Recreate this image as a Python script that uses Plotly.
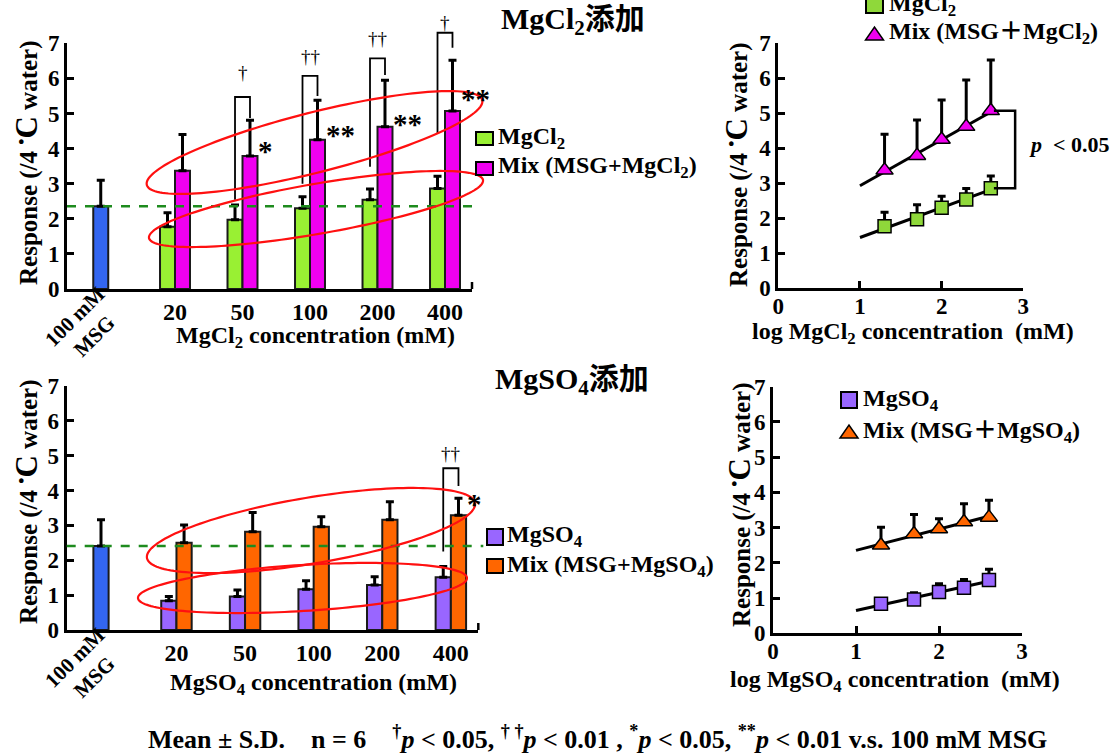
import numpy as np
import plotly.graph_objects as go

# ---------------------------------------------------------------- data
concentrations = [20, 50, 100, 200, 400]            # mM
conc_labels = ["20", "50", "100", "200", "400"]

msg_cl_mean, msg_cl_sd = 2.36, 0.74                 # 100 mM MSG reference
mgcl2_mean = [1.77, 1.97, 2.30, 2.54, 2.86]
mgcl2_sd = [0.40, 0.42, 0.33, 0.31, 0.35]
mix_cl_mean = [3.37, 3.79, 4.25, 4.62, 5.07]
mix_cl_sd = [1.03, 1.02, 1.13, 1.33, 1.45]

msg_so_mean, msg_so_sd = 2.41, 0.75
mgso4_mean = [0.84, 0.96, 1.17, 1.29, 1.51]
mgso4_sd = [0.12, 0.19, 0.24, 0.24, 0.31]
mix_so_mean = [2.50, 2.82, 2.96, 3.16, 3.29]
mix_so_sd = [0.51, 0.55, 0.29, 0.52, 0.49]

cl_pair_sig = ["", "†", "††", "††", "†"]     # salt alone vs mix
cl_msg_sig = ["", "*", "**", "**", "**"]     # mix vs 100 mM MSG
so_pair_sig = ["", "", "", "", "††"]
so_msg_sig = ["", "", "", "", "*"]

# ---------------------------------------------------------------- styling / geometry
W, H = 1113, 755
SERIF = "Liberation Serif, Times New Roman, Noto Sans CJK JP, serif"

MSG_BLUE = "#3366F0"
CL_GREEN = "#99F033"
CL_MAGENTA = "#F000F0"
SO_PURPLE = "#9966FF"
SO_ORANGE = "#FF6600"
CL_GREEN_MARK = "#8FD83A"

# pixel extents of each plotting area and its data range
PANELS = {
    "tl": dict(x="x", y="y", xpx=(67.0, 472.0), ypx=(289.0, 43.3), xr=(-0.6, 5.4), yr=(0, 7)),
    "tr": dict(x="x2", y="y2", xpx=(778.3, 1023.3), ypx=(288.3, 43.3), xr=(0, 3), yr=(0, 7)),
    "bl": dict(x="x3", y="y3", xpx=(66.7, 478.3), ypx=(630.0, 386.0), xr=(-0.6, 5.4), yr=(0, 7)),
    "br": dict(x="x4", y="y4", xpx=(773.0, 1022.0), ypx=(633.3, 386.7), xr=(0, 3), yr=(0, 7)),
}

GROUP_X = np.arange(1, 6)
MSG_X = -0.1
BAR_W = 0.222

# salt-vs-mix brackets: (left foot, top, right foot, label y)
cl_brackets = [None, (2.54, 5.47, 4.87, 6.18), (3.0, 6.07, 5.5, 6.63),
               (3.48, 6.57, 6.1, 7.13), (4.44, 7.3, 6.87, 7.6)]
so_brackets = [None, None, None, None, (2.25, 4.64, 4.13, 5.05)]
cl_star_y = [None, 4.07, 4.53, 4.84, 5.56]
so_star_y = [None, None, None, None, 3.76]

# red ellipses: centre (data units), half-length / half-width (px), tilt (deg)
cl_ellipses = [((3.067, 4.174), 173, 30, 14.2), ((3.089, 2.279), 169.5, 25, 9.85)]
so_ellipses = [((2.961, 2.854), 166.3, 33, 9.5), ((2.837, 1.205), 164.8, 23, 3.5)]


def px_x(p, x):
    (a, b), (r0, r1) = p["xpx"], p["xr"]
    return a + (x - r0) / (r1 - r0) * (b - a)


def px_y(p, y):
    (a, b), (r0, r1) = p["ypx"], p["yr"]
    return a + (y - r0) / (r1 - r0) * (b - a)


def fx(px):
    return px / W


def fy(py):
    return 1 - py / H


shapes, annotations = [], []


def label(xpx, ypx, text, size, xanchor="center", yanchor="middle", **kw):
    annotations.append(dict(
        x=fx(xpx), y=fy(ypx), xref="paper", yref="paper", text=text, showarrow=False,
        xanchor=xanchor, yanchor=yanchor,
        font=dict(family=SERIF, size=size, color="black"), **kw))


def poly(points, color="black", width=2, closed=False):
    d = "M" + " L".join(f"{fx(a):.5f},{fy(b):.5f}" for a, b in points)
    if closed:
        d += " Z"
    shapes.append(dict(type="path", xref="paper", yref="paper", path=d,
                       line=dict(color=color, width=width), layer="above"))


def ellipse(p, centre, a, b, tilt):
    cx, cy = px_x(p, centre[0]), px_y(p, centre[1])
    th = np.radians(tilt)
    t = np.linspace(0, 2 * np.pi, 160, endpoint=False)
    xs = cx + a * np.cos(t) * np.cos(th) + b * np.sin(t) * np.sin(th)
    ys = cy - a * np.cos(t) * np.sin(th) + b * np.sin(t) * np.cos(th)
    poly(list(zip(xs, ys)), color="#FF1010", width=2.2, closed=True)


def up_err(sd):
    return dict(type="data", symmetric=False, array=list(sd), arrayminus=[0] * len(sd),
                color="black", thickness=3, width=4)


fig = go.Figure()
BAR_LINE = dict(color="#1a1a1a", width=2)


def bar_panel(key, msg_mean, msg_sd, salt_mean, salt_sd, mix_mean, mix_sd,
              salt_color, mix_color, brackets, pair_sig, msg_sig, star_y, ellipses):
    p = PANELS[key]
    ax = dict(xaxis=p["x"], yaxis=p["y"], showlegend=False, hoverinfo="skip")
    fig.add_trace(go.Bar(x=[MSG_X], y=[msg_mean], width=BAR_W,
                         marker=dict(color=MSG_BLUE, line=BAR_LINE), error_y=up_err([msg_sd]), **ax))
    fig.add_trace(go.Bar(x=GROUP_X, y=salt_mean, offset=-BAR_W, width=BAR_W,
                         marker=dict(color=salt_color, line=BAR_LINE), error_y=up_err(salt_sd), **ax))
    fig.add_trace(go.Bar(x=GROUP_X, y=mix_mean, offset=0, width=BAR_W,
                         marker=dict(color=mix_color, line=BAR_LINE), error_y=up_err(mix_sd), **ax))

    # MSG reference level
    y_ref = px_y(p, msg_mean)
    shapes.append(dict(type="line", xref="paper", yref="paper",
                       x0=fx(p["xpx"][0]), x1=fx(p["xpx"][1] + 5), y0=fy(y_ref), y1=fy(y_ref),
                       line=dict(color="#1E8B1E", width=2.5, dash="dash"), layer="above"))

    # short end tick closing the category axis
    x_end = p["xpx"][1]
    poly([(x_end, p["ypx"][0]), (x_end, p["ypx"][0] - 7)], width=2.5)

    for k, gx in enumerate(GROUP_X):
        if brackets[k]:
            lf, top, rf, ly = brackets[k]
            xl, xr_ = px_x(p, gx - BAR_W / 2), px_x(p, gx + BAR_W / 2)
            poly([(xl, px_y(p, lf)), (xl, px_y(p, top)), (xr_, px_y(p, top)), (xr_, px_y(p, rf))],
                 width=1.8)
            label((xl + xr_) / 2, px_y(p, ly), pair_sig[k], 19)
        if msg_sig[k]:
            label(px_x(p, gx + BAR_W) - 1, px_y(p, star_y[k]) + 5, "<b>" + msg_sig[k] + "</b>", 29,
                  xanchor="left")

    for centre, a, b, tilt in ellipses:
        ellipse(p, centre, a, b, tilt)


def dose_panel(key, salt_mean, salt_sd, mix_mean, mix_sd, salt_color, mix_color):
    p = PANELS[key]
    ax = dict(xaxis=p["x"], yaxis=p["y"], showlegend=False, hoverinfo="skip")
    logc = np.log10(concentrations)
    for mean in (salt_mean, mix_mean):
        slope, icpt = np.polyfit(logc, mean, 1)
        xs = np.array([1.0, logc[-1]])
        fig.add_trace(go.Scatter(x=xs, y=icpt + slope * xs, mode="lines",
                                 line=dict(color="black", width=3), **ax))
    fig.add_trace(go.Scatter(x=logc, y=salt_mean, mode="markers", error_y=up_err(salt_sd),
                             marker=dict(symbol="square", size=13, color=salt_color,
                                         line=dict(color="black", width=1.5)), **ax))
    fig.add_trace(go.Scatter(x=logc, y=mix_mean, mode="markers", error_y=up_err(mix_sd),
                             marker=dict(symbol="triangle-up", size=15, color=mix_color,
                                         line=dict(color="black", width=1.5)), **ax))


bar_panel("tl", msg_cl_mean, msg_cl_sd, mgcl2_mean, mgcl2_sd, mix_cl_mean, mix_cl_sd,
          CL_GREEN, CL_MAGENTA, cl_brackets, cl_pair_sig, cl_msg_sig, cl_star_y, cl_ellipses)
bar_panel("bl", msg_so_mean, msg_so_sd, mgso4_mean, mgso4_sd, mix_so_mean, mix_so_sd,
          SO_PURPLE, SO_ORANGE, so_brackets, so_pair_sig, so_msg_sig, so_star_y, so_ellipses)
dose_panel("tr", mgcl2_mean, mgcl2_sd, mix_cl_mean, mix_cl_sd, CL_GREEN_MARK, CL_MAGENTA)
dose_panel("br", mgso4_mean, mgso4_sd, mix_so_mean, mix_so_sd, SO_PURPLE, SO_ORANGE)

# slope comparison bracket on the MgCl2 dose-response panel
ptr = PANELS["tr"]
bx0, bx1 = px_x(ptr, 2.64), px_x(ptr, 2.9)
by0, by1 = px_y(ptr, mix_cl_mean[-1]), px_y(ptr, mgcl2_mean[-1])
poly([(bx0, by0), (bx1, by0), (bx1, by1), (bx0, by1)], width=2.5)
label(bx1 + 12, (by0 + by1) / 2 - 5, "<b><i>p</i>&nbsp;&nbsp;&lt; 0.05</b>", 22, xanchor="left")


# ---------------------------------------------------------------- legends
def legend_square(x0, y0, x1, y1, color):
    shapes.append(dict(type="rect", xref="paper", yref="paper", x0=fx(x0), x1=fx(x1),
                       y0=fy(y1), y1=fy(y0), fillcolor=color,
                       line=dict(color="black", width=2), layer="above"))


def legend_triangle(xc, ytop, ybot, half, color):
    d = f"M{fx(xc - half):.5f},{fy(ybot):.5f} L{fx(xc + half):.5f},{fy(ybot):.5f} L{fx(xc):.5f},{fy(ytop):.5f} Z"
    shapes.append(dict(type="path", xref="paper", yref="paper", path=d, fillcolor=color,
                       line=dict(color="black", width=1.5), layer="above"))


legend_square(476, 132, 493, 145, CL_GREEN)
legend_square(476, 162, 493, 175, CL_MAGENTA)
label(496, 138, "<b>MgCl<sub>2</sub></b>", 24, xanchor="left")
label(496, 167, "<b>Mix (MSG+MgCl<sub>2</sub>)</b>", 24, xanchor="left")

legend_square(487, 529, 503, 545, SO_PURPLE)
legend_square(487, 559, 503, 573, SO_ORANGE)
label(505, 536, "<b>MgSO<sub>4</sub></b>", 24, xanchor="left")
label(505, 566, "<b>Mix (MSG+MgSO<sub>4</sub>)</b>", 24, xanchor="left")

legend_square(866, -1, 883, 13, CL_GREEN_MARK)
legend_triangle(874.5, 27, 40, 9, CL_MAGENTA)
label(887, 5, "<b>MgCl<sub>2</sub></b>", 24, xanchor="left")
label(887, 33, "<b>Mix (MSG＋MgCl<sub>2</sub>)</b>", 24, xanchor="left")

legend_square(841, 392, 857, 408, SO_PURPLE)
legend_triangle(849, 425, 438, 9, SO_ORANGE)
label(861, 400, "<b>MgSO<sub>4</sub></b>", 24, xanchor="left")
label(861, 432, "<b>Mix (MSG＋MgSO<sub>4</sub>)</b>", 24, xanchor="left")

# ---------------------------------------------------------------- titles and axis labels
label(573, 21, "<b>MgCl<sub>2</sub>添加</b>", 30)
label(572, 381, "<b>MgSO<sub>4</sub>添加</b>", 30)

YTITLE = "<b>Response (/4 <sup>•</sup><span style='font-size:31px'>C</span> water)</b>"
label(26, 163, YTITLE, 25, textangle=-90)
label(736, 165, YTITLE, 25, textangle=-90)
label(26, 502, YTITLE, 25, textangle=-90)
label(739, 505, YTITLE, 25, textangle=-90)

label(315, 337, "<b>MgCl<sub>2</sub> concentration (mM)</b>", 24)
label(313, 684, "<b>MgSO<sub>4</sub> concentration (mM)</b>", 24)
label(913, 333, "<b>log MgCl<sub>2</sub> concentration&nbsp;&nbsp;(mM)</b>", 24)
label(895, 681, "<b>log MgSO<sub>4</sub> concentration&nbsp;&nbsp;(mM)</b>", 24)

label(84, 326, "<b>100 mM<br>MSG</b>", 21, textangle=-45)
label(84, 667, "<b>100 mM<br>MSG</b>", 21, textangle=-45)

label(597, 737,
      "<b>Mean ± S.D.&nbsp;&nbsp;&nbsp;&nbsp;n = 6&nbsp;&nbsp;&nbsp;&nbsp;<sup>†</sup><i>p</i> &lt; 0.05, "
      "<sup>† †</sup><i>p</i> &lt; 0.01 , <sup>*</sup><i>p</i> &lt; 0.05, "
      "<sup>**</sup><i>p</i> &lt; 0.01 v.s. 100 mM MSG</b>", 26)

# ---------------------------------------------------------------- axes
TICKFONT = dict(family=SERIF, size=23, color="black", weight="bold")


def base_axis():
    return dict(showline=True, linecolor="black", linewidth=3, showgrid=False, zeroline=False,
                ticks="inside", ticklen=7, tickwidth=2.5, tickcolor="black",
                tickfont=TICKFONT, fixedrange=True)


layout_axes = {}
for i, key in enumerate(["tl", "tr", "bl", "br"]):
    p = PANELS[key]
    suffix = "" if i == 0 else str(i + 1)
    xa = base_axis()
    xa.update(domain=[fx(p["xpx"][0]), fx(p["xpx"][1])], range=list(p["xr"]), anchor=p["y"])
    if key in ("tl", "bl"):
        xa.update(tickvals=list(GROUP_X), ticktext=conc_labels, ticks="",
                  tickfont=dict(TICKFONT, size=24), ticklabelstandoff=-1)
    else:
        xa.update(tickvals=[0, 1, 2, 3], ticklabelstandoff=-5)
    ya = base_axis()
    ya.update(domain=[fy(p["ypx"][0]), fy(p["ypx"][1])], range=list(p["yr"]), anchor=p["x"],
              tickvals=list(range(0, 8)), ticklabelstandoff=0)
    layout_axes["xaxis" + suffix] = xa
    layout_axes["yaxis" + suffix] = ya

fig.update_layout(
    width=W, height=H,
    margin=dict(l=0, r=0, t=0, b=0, autoexpand=False),
    paper_bgcolor="white", plot_bgcolor="rgba(0,0,0,0)",
    barmode="overlay", showlegend=False,
    shapes=shapes, annotations=annotations,
    **layout_axes,
)

fig.write_html("out.html")
